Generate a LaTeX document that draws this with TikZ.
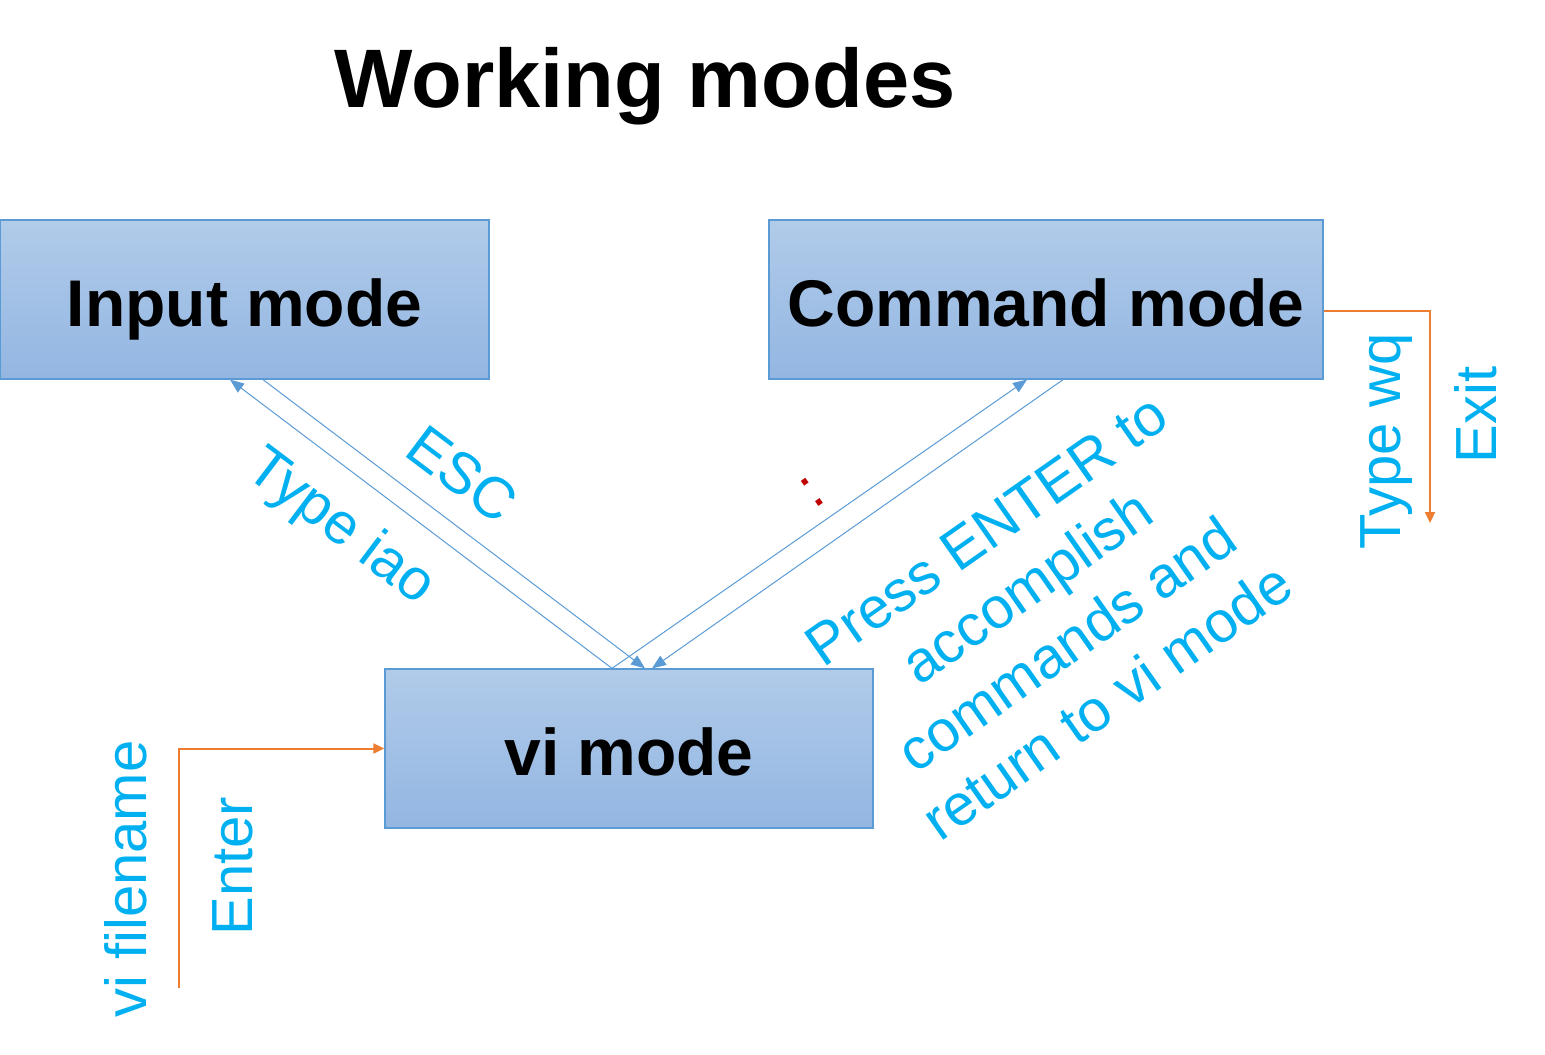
\documentclass[tikz,border=0pt]{standalone}
\usepackage{fontspec}
\setmainfont{Liberation Sans}
\usetikzlibrary{arrows.meta}
\tikzset{
	mode/.style={draw=boxLine, line width=0.65pt, top color=boxTop, bottom color=boxBottom,
		inner sep=0, minimum height=79.5pt, text height=26.5pt, text depth=0pt,
		font=\fontsize{33}{40}\selectfont\bfseries},
	lab/.style={text=labColor, inner sep=0, font=\fontsize{29}{35}\selectfont},
	flow/.style={draw=boxLine, line width=0.5pt, -{Triangle[length=7pt,width=5.5pt]}},
	exit/.style={draw=exitColor, line width=1pt, -{Triangle[length=5.5pt,width=5pt]}}
}
\definecolor{boxTop}{HTML}{B1CBE9}
\definecolor{boxBottom}{HTML}{93B6E2}
\definecolor{boxLine}{HTML}{5B9BD5}
\definecolor{exitColor}{HTML}{ED7D31}
\definecolor{labColor}{HTML}{00B0F0}
\definecolor{colonColor}{HTML}{C00000}

\begin{document}
\begin{tikzpicture}[x=0.5pt, y=-0.5pt]
\useasboundingbox (0,0) rectangle (1545,1054);
\node[anchor=base, inner sep=0, font=\fontsize{41.5}{50}\selectfont\bfseries] (title) at (645,107) {Working modes};
\node[mode, minimum width=244.5pt] (inp) at (244.5,299.5) {Input mode};
\node[mode, minimum width=277pt] (cmd) at (1046,299.5) {Command mode};
\node[mode, minimum width=244pt] (vi) at (629,748.5) {vi mode};
% between the modes
\path ([xshift=-8.5pt]vi.north) edge[flow] ([xshift=-7.25pt]inp.south);
\path ([xshift=9.25pt]inp.south) edge[flow] ([xshift=8pt]vi.north);
\path ([xshift=-8.5pt]vi.north) edge[flow] ([xshift=-9.5pt]cmd.south);
\path ([xshift=8.5pt]cmd.south) edge[flow] ([xshift=11.5pt]vi.north);
\node[lab, rotate=-37] (iao) at (340,528) {Type iao};
\node[lab, rotate=-37] (esc) at (462,474) {ESC};
\node[lab, text=colonColor, rotate=35] (colon) at (812.5,492.5) {:};
\node[lab, rotate=35, align=center] (enter) at (1047,616) {Press ENTER to\\accomplish\\commands and\\return to vi mode};
% start and exit
\coordinate (login) at (179,988);
\coordinate (quit) at (1430,523);
\draw[exit] (login) |- (vi.west);
\draw[exit] ([yshift=-5.75pt]cmd.east) -| (quit);
\node[lab, rotate=90] (vifile) at (126,879) {vi filename};
\node[lab, rotate=90] (ent) at (233,866) {Enter};
\node[lab, rotate=90] (wq) at (1387,441) {Type wq};
\node[lab, rotate=90] (ex) at (1476,415) {Exit};
\end{tikzpicture}
\end{document}
